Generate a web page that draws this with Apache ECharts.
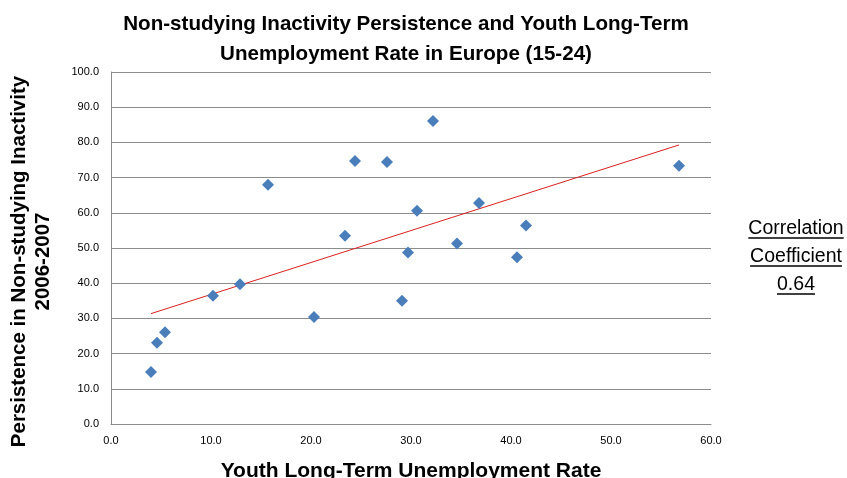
<!DOCTYPE html>
<html><head><meta charset="utf-8">
<script src="https://cdn.jsdelivr.net/npm/echarts@6/dist/echarts.min.js"></script>
<style>html,body{margin:0;padding:0;background:#fff}#c{width:847px;height:478px}</style>
</head><body><div id="c"></div>
<script>
const unemploymentRate = [4.0, 4.6, 5.4, 10.2, 12.9, 20.3, 15.7, 23.4, 24.4, 27.6, 32.2, 30.6, 36.8, 34.6, 41.5, 56.8, 29.7, 29.1, 40.6];
const inactivityPersistence = [14.8, 23.1, 26.1, 36.4, 39.7, 30.4, 68.0, 53.5, 74.7, 74.4, 86.1, 60.6, 62.8, 51.3, 56.4, 73.4, 48.7, 35.0, 47.4];
const correlationLabel = ['Correlation', 'Coefficient', '0.64'];

const pts = unemploymentRate.map((x, i) => [x, inactivityPersistence[i]]);
// least-squares trendline computed from the data
const n = pts.length;
const mx = unemploymentRate.reduce((a, b) => a + b, 0) / n;
const my = inactivityPersistence.reduce((a, b) => a + b, 0) / n;
let sxy = 0, sxx = 0;
pts.forEach(([x, y]) => { sxy += (x - mx) * (y - my); sxx += (x - mx) * (x - mx); });
const slope = sxy / sxx, icpt = my - slope * mx;
const xMin = Math.min(...unemploymentRate), xMax = Math.max(...unemploymentRate);
const trend = [[xMin, icpt + slope * xMin], [xMax, icpt + slope * xMax]];

const FONT = "'Liberation Sans Narrow', 'Liberation Sans', sans-serif";
const corrFont = "19.5px 'Liberation Sans Narrow', 'Liberation Sans', sans-serif";
const ctx = document.createElement('canvas').getContext('2d');
ctx.font = corrFont;

const chart = echarts.init(document.getElementById('c'), null, { renderer: 'canvas' });
const gridCol = '#8c8c8c';
const graphics = [];
correlationLabel.forEach((t, i) => {
  const cy = 229 + i * 28;
  const w = ctx.measureText(t).width;
  graphics.push({ type: 'text', x: 796, y: cy, style: { text: t, font: corrFont, fill: '#000', align: 'center', verticalAlign: 'middle' } });
  graphics.push({ type: 'line', shape: { x1: 796 - w / 2, y1: cy + 9, x2: 796 + w / 2, y2: cy + 9 }, style: { stroke: '#000', lineWidth: 1.5 } });
});
chart.setOption({
  animation: false,
  backgroundColor: '#fff',
  title: {
    text: 'Non-studying Inactivity Persistence and Youth Long-Term\nUnemployment Rate in Europe (15-24)',
    left: 401, top: 4, textAlign: 'center',
    textStyle: { fontFamily: FONT, fontWeight: 'bold', fontSize: 20.6, lineHeight: 30, color: '#000' }
  },
  grid: { left: 111, right: 136, top: 72, bottom: 54, containLabel: false, outerBoundsMode: 'none' },
  xAxis: {
    type: 'value', min: 0, max: 60, interval: 10,
    axisLine: { show: true, lineStyle: { color: gridCol } },
    axisTick: { show: false },
    splitLine: { show: false },
    axisLabel: { formatter: v => v.toFixed(1), fontFamily: FONT, fontSize: 11, color: '#000', margin: 11 },
    name: 'Youth Long-Term Unemployment Rate', nameLocation: 'middle', nameGap: 37,
    nameTextStyle: { fontFamily: FONT, fontWeight: 'bold', fontSize: 21, color: '#000' }
  },
  yAxis: {
    type: 'value', min: 0, max: 100, interval: 10,
    axisLine: { show: true, lineStyle: { color: gridCol } },
    axisTick: { show: false },
    splitLine: { show: true, lineStyle: { color: gridCol, width: 1 } },
    axisLabel: { formatter: v => v.toFixed(1), fontFamily: FONT, fontSize: 11, color: '#000', margin: 12 },
    name: 'Persistence in Non-studying Inactivity\n2006-2007', nameLocation: 'middle', nameGap: 56, nameRotate: 90,
    nameTextStyle: { fontFamily: FONT, fontWeight: 'bold', fontSize: 20.5, lineHeight: 24, color: '#000', padding: [0, 27, 0, 0] }
  },
  series: [
    { type: 'scatter', data: pts, symbol: 'diamond', symbolSize: 12,
      itemStyle: { color: '#4A7EBB', opacity: 1 }, z: 3 },
    { type: 'line', data: trend, showSymbol: false, symbol: 'none',
      lineStyle: { color: '#D9201F', width: 1 }, z: 2 }
  ],
  graphic: graphics
});
</script>
</body></html>
